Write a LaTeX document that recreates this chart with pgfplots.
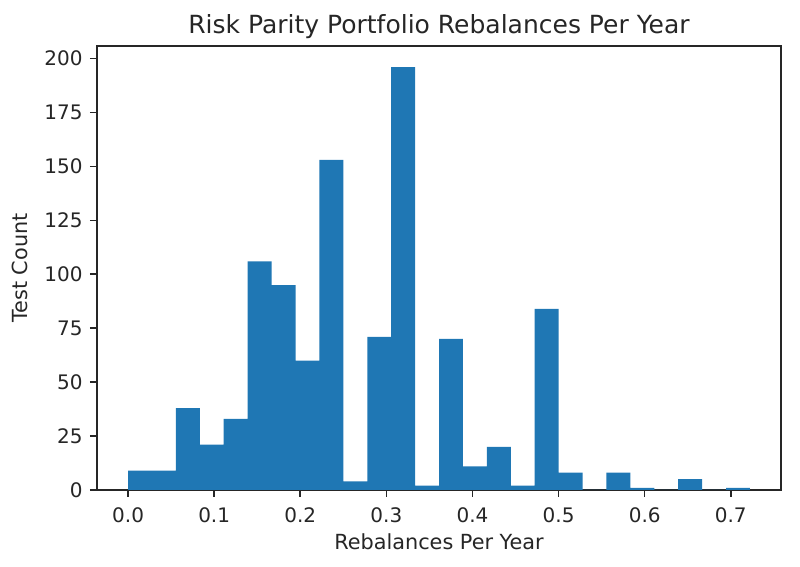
\documentclass[border=0pt]{standalone}
\usepackage{fontspec}
\setmainfont{DejaVu Sans}
\usepackage{pgfplots}
\pgfplotsset{compat=1.18}
\definecolor{bar}{HTML}{1F77B4}
\definecolor{ink}{HTML}{262626}
\begin{document}
\begin{tikzpicture}
\useasboundingbox (-48.5pt,-38.5pt) rectangle (351.5pt,245pt);
\begin{axis}[
  at={(0,0)}, anchor=south west,
  scale only axis,
  width=342pt, height=222pt,
  xmin=-0.0361, xmax=0.7583,
  ymin=0, ymax=205.8,
  xtick={0,0.1,0.2,0.3,0.4,0.5,0.6,0.7},
  xticklabels={0.0,0.1,0.2,0.3,0.4,0.5,0.6,0.7},
  ytick={0,25,50,75,100,125,150,175,200},
  tick align=outside,
  tick pos=left,
  major tick length=3.5pt,
  every tick/.style={ink, line width=0.8pt},
  axis line style={ink, line width=0.8pt},
  /pgf/number format/assume math mode=true,
  ticklabel style={font=\fontsize{10}{12}\selectfont, text=ink},
  xticklabel style={anchor=north, inner sep=0pt, yshift=-5pt},
  yticklabel style={anchor=east, inner sep=0pt, xshift=-3.5pt},
  title={Risk Parity Portfolio Rebalances Per Year},
  title style={font=\fontsize{12.5}{14}\selectfont, text=ink, at={(axis description cs:0.5,1)}, anchor=base, yshift=0pt},
  xlabel={Rebalances Per Year},
  ylabel={Test Count},
  xlabel style={font=\fontsize{10.4}{12}\selectfont, text=ink, at={(axis description cs:0.5,0)}, anchor=base, yshift=-30pt},
  ylabel style={font=\fontsize{10.4}{12}\selectfont, text=ink, at={(axis description cs:-0.1126,0.5)}, anchor=center},
]
\addplot[ybar interval, fill=bar, draw=none] coordinates {
(0.000000,9) (0.027778,9) (0.055556,38) (0.083333,21) (0.111111,33)
(0.138889,106) (0.166667,95) (0.194444,60) (0.222222,153) (0.250000,4)
(0.277778,71) (0.305556,196) (0.333333,2) (0.361111,70) (0.388889,11)
(0.416667,20) (0.444444,2) (0.472222,84) (0.500000,8) (0.527778,0)
(0.555556,8) (0.583333,1) (0.611111,0) (0.638889,5) (0.666667,0)
(0.694444,1) (0.722222,0)
};
\end{axis}
\end{tikzpicture}
\end{document}
